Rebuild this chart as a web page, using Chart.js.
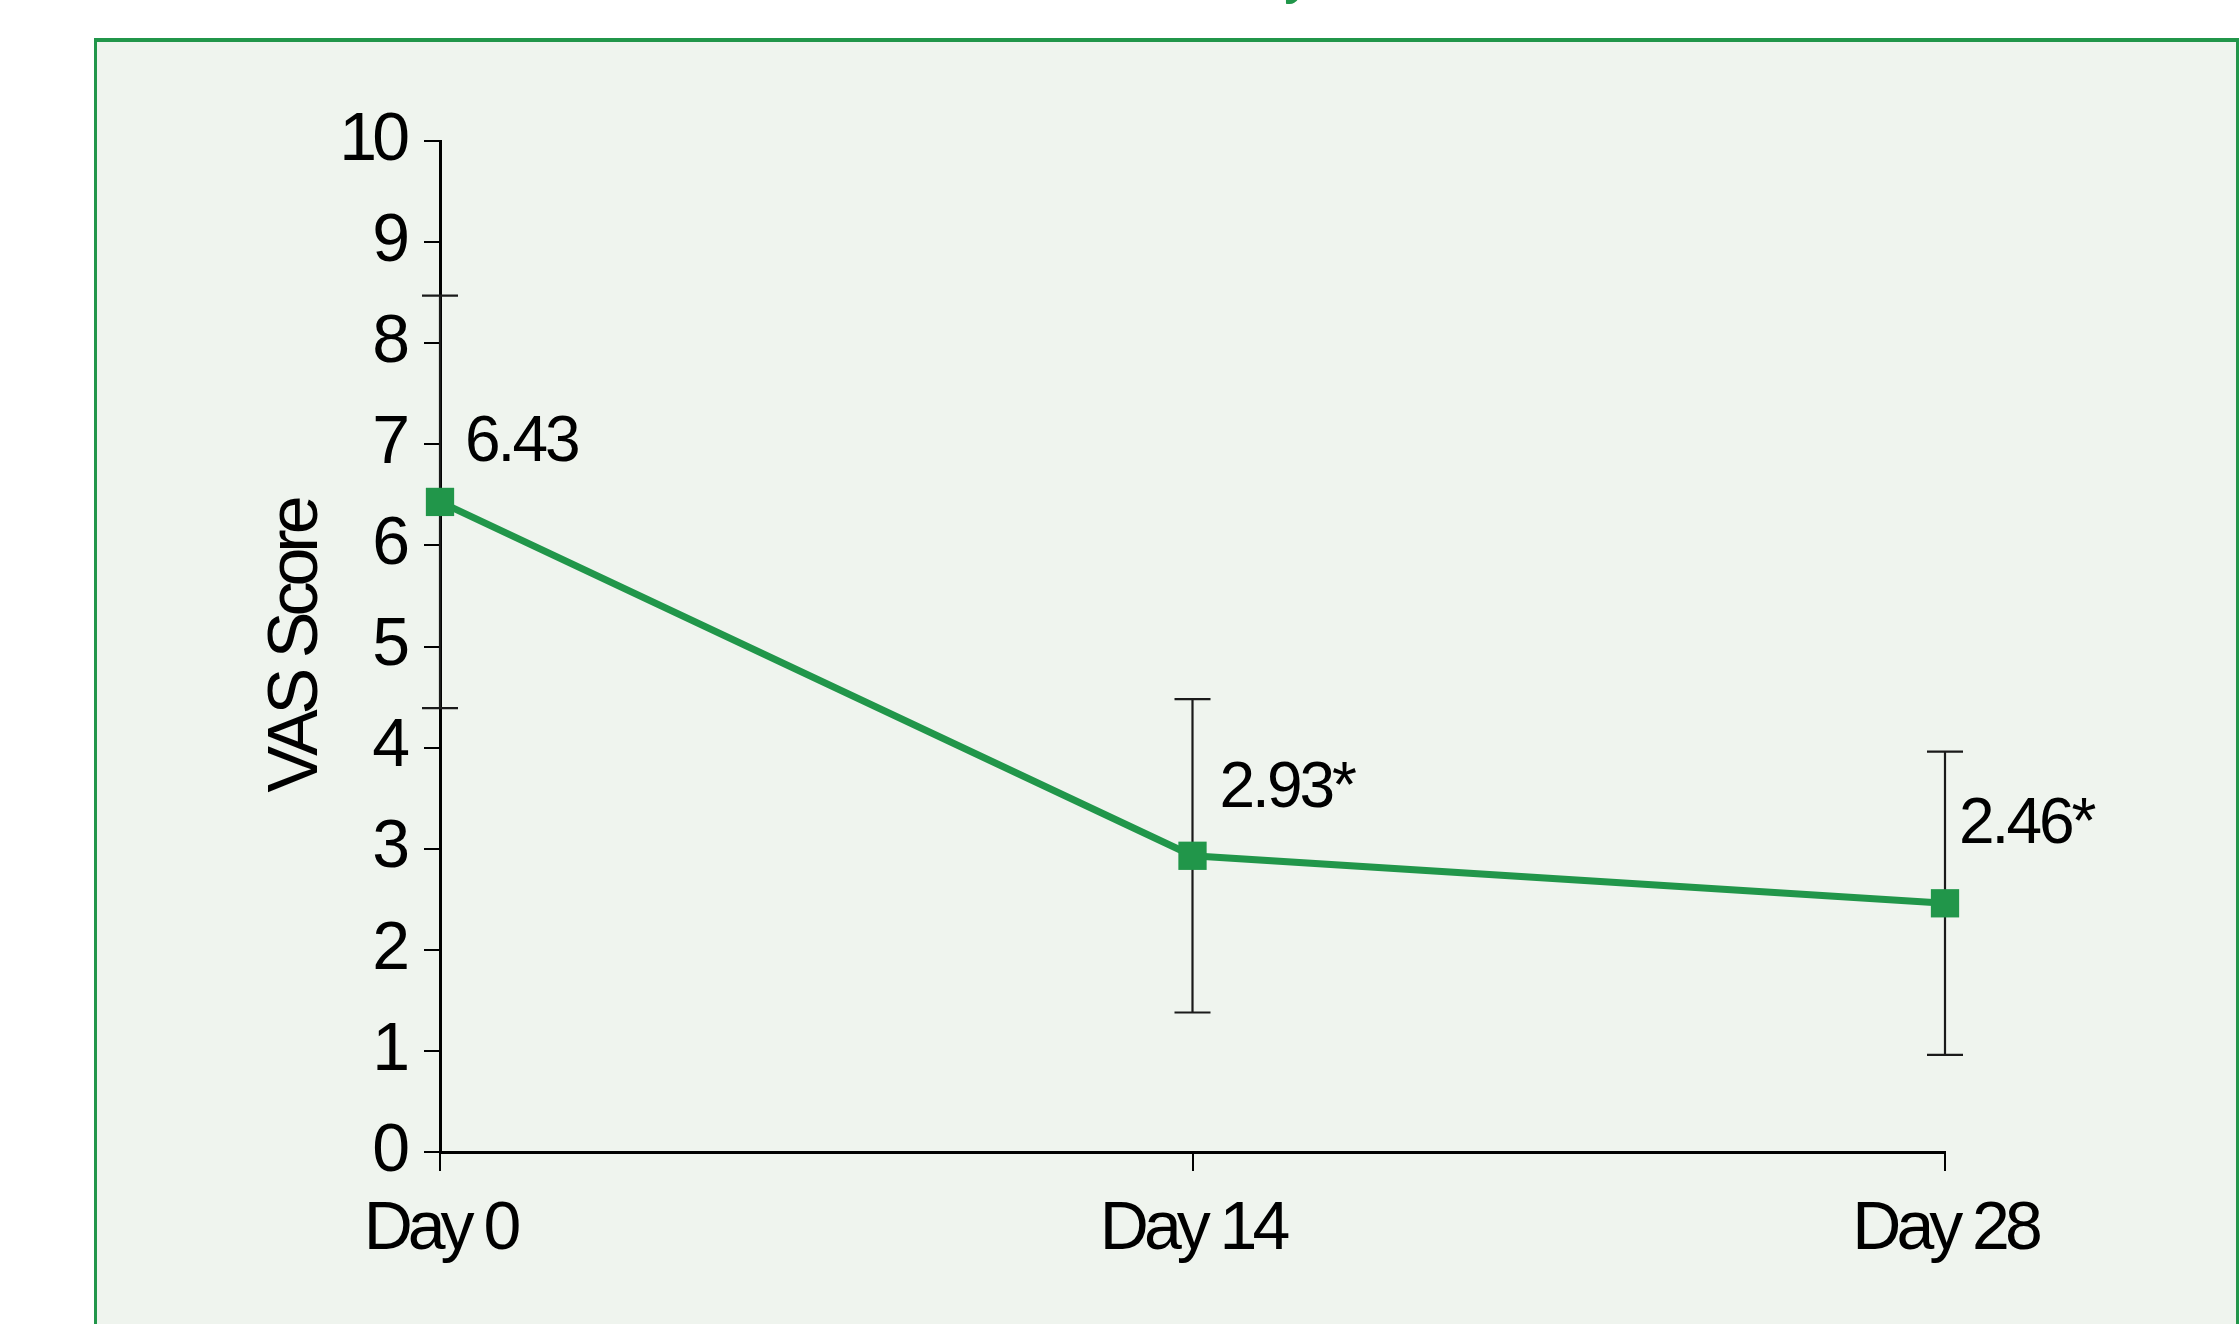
<!DOCTYPE html>
<html>
<head>
<meta charset="utf-8">
<script src="https://cdn.jsdelivr.net/npm/chart.js@4/dist/chart.umd.min.js"></script>
<style>
  html, body { margin: 0; padding: 0; background: #ffffff; }
  #wrap { width: 2239px; height: 1324px; position: relative; }
  canvas { display: block; }
</style>
</head>
<body>
<div id="wrap"><canvas id="c" width="2239" height="1324"></canvas></div>
<script>
// ---- data ----
const categories = ["Day 0", "Day 14", "Day 28"];
const vasMean = [6.43, 2.93, 2.46];
const vasSD = [2.04, 1.55, 1.50];
const pointLabels = ["6.43", "2.93*", "2.46*"];
const yTicks = [0, 1, 2, 3, 4, 5, 6, 7, 8, 9, 10];
const yTitle = "VAS Score";

// ---- styles ----
const GREEN = "rgb(33,150,74)";
const PANEL_BG = "rgb(239,244,238)";
const FONT = "'Liberation Sans', Arial, sans-serif";
const TIGHT = "-5px";
const labelOffsets = [[25, -59], [27, -66], [14, -78]];

function tighten(ctx, v) { try { ctx.letterSpacing = v || TIGHT; } catch (e) {} }

const panelPlugin = {
  id: 'panel',
  beforeUpdate(chart) { tighten(chart.ctx); },
  beforeDraw(chart) {
    const ctx = chart.ctx;
    ctx.save();
    ctx.fillStyle = '#ffffff';
    ctx.fillRect(0, 0, chart.width, chart.height);
    ctx.fillStyle = PANEL_BG;
    ctx.fillRect(95, 40, 2239 - 95, 1324 - 40);
    ctx.fillStyle = GREEN;
    ctx.fillRect(94, 38, 2239 - 94, 4);   // top border
    ctx.fillRect(94, 38, 3, 1324 - 38);   // left border
    ctx.fillRect(2236, 38, 3, 1324 - 38); // right border
    // cut-off title glyph at the very top
    ctx.font = "60px " + FONT;
    ctx.textBaseline = 'alphabetic';
    ctx.textAlign = 'left';
    ctx.fillText("y", 1284, -8);
    ctx.restore();
    tighten(ctx);
  }
};

const errorBarPlugin = {
  id: 'errorBars',
  beforeDatasetsDraw(chart) {
    const ctx = chart.ctx;
    const meta = chart.getDatasetMeta(0);
    const ys = chart.scales.y;
    ctx.save();
    ctx.strokeStyle = '#1a1a1a';
    ctx.lineWidth = 2.2;
    meta.data.forEach((pt, i) => {
      const x = pt.x;
      const top = ys.getPixelForValue(vasMean[i] + vasSD[i]);
      const bot = ys.getPixelForValue(vasMean[i] - vasSD[i]);
      const cap = 18;
      ctx.beginPath();
      ctx.moveTo(x, top); ctx.lineTo(x, bot);
      ctx.moveTo(x - cap, top); ctx.lineTo(x + cap, top);
      ctx.moveTo(x - cap, bot); ctx.lineTo(x + cap, bot);
      ctx.stroke();
    });
    ctx.restore();
  }
};

const labelPlugin = {
  id: 'pointLabels',
  afterDatasetsDraw(chart) {
    const ctx = chart.ctx;
    const meta = chart.getDatasetMeta(0);
    ctx.save();
    tighten(ctx, "-3px");
    ctx.fillStyle = '#000';
    ctx.font = "64px " + FONT;
    ctx.textAlign = 'left';
    ctx.textBaseline = 'middle';
    meta.data.forEach((pt, i) => {
      ctx.fillText(pointLabels[i], pt.x + labelOffsets[i][0], pt.y + labelOffsets[i][1]);
    });
    ctx.restore();
  }
};

new Chart(document.getElementById('c'), {
  type: 'line',
  data: {
    labels: categories,
    datasets: [{
      data: vasMean,
      borderColor: GREEN,
      backgroundColor: GREEN,
      borderWidth: 7,
      tension: 0,
      pointStyle: 'rect',
      pointRadius: 20,
      pointHoverRadius: 20,
      pointBackgroundColor: GREEN,
      pointBorderWidth: 0,
      fill: false
    }]
  },
  options: {
    responsive: false,
    devicePixelRatio: 1,
    animation: false,
    events: [],
    layout: { padding: { left: 256, right: 294, top: 141, bottom: 0 } },
    plugins: { legend: { display: false }, tooltip: { enabled: false }, title: { display: false } },
    scales: {
      x: {
        type: 'category',
        offset: false,
        grid: { display: true, drawOnChartArea: false, drawTicks: true, tickLength: 19, color: '#000', lineWidth: 2, offset: false },
        border: { display: true, color: '#000', width: 3 },
        ticks: { color: '#000', font: { family: FONT, size: 68 }, padding: 18, maxRotation: 0 },
        afterFit(scale) { scale.height = 172; }
      },
      y: {
        min: 0, max: 10,
        afterBuildTicks(scale) { scale.ticks = yTicks.map(v => ({ value: v })); },
        grid: { display: true, drawOnChartArea: false, drawTicks: true, tickLength: 16, color: '#000', lineWidth: 2 },
        border: { display: true, color: '#000', width: 3 },
        ticks: { color: '#000', font: { family: FONT, size: 68 }, padding: 19 },
        title: { display: true, text: yTitle, color: '#000', font: { family: FONT, size: 70 }, padding: { top: 0, bottom: 0 } },
        afterFit(scale) { scale.width = 184; }
      }
    }
  },
  plugins: [panelPlugin, errorBarPlugin, labelPlugin]
});
</script>
</body>
</html>
